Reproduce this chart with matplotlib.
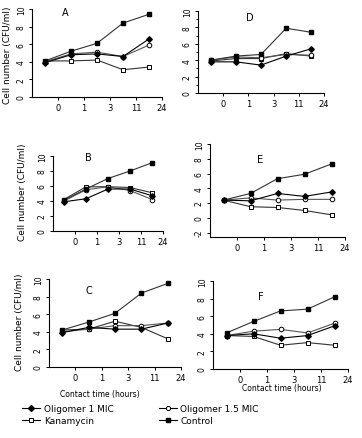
import matplotlib
matplotlib.use('Agg')
import matplotlib.pyplot as plt
from matplotlib.lines import Line2D

W, H = 362, 439

hours = ['0', '1', '3', '11', '24']
sample_pos = [0.5, 1.5, 2.5, 3.5, 4.5]

# panel -> (oligomer 1 MIC, oligomer 1.5 MIC, kanamycin, control)
olig1 = {
    'A': [3.9, 4.8, 4.9, 4.6, 6.6],
    'B': [3.9, 4.3, 5.6, 5.6, 4.7],
    'C': [3.9, 4.5, 4.3, 4.3, 5.0],
    'D': [3.8, 3.8, 3.4, 4.5, 5.4],
    'E': [2.4, 2.3, 3.3, 2.9, 3.5],
    'F': [3.8, 4.0, 3.5, 3.8, 4.9],
}
olig15 = {
    'A': [4.0, 4.9, 5.1, 4.6, 5.9],
    'B': [4.0, 5.5, 5.9, 5.4, 4.2],
    'C': [4.0, 4.3, 4.7, 4.7, 5.0],
    'D': [4.0, 4.4, 4.3, 4.7, 4.6],
    'E': [2.4, 2.7, 2.4, 2.5, 2.5],
    'F': [3.8, 4.3, 4.5, 4.1, 5.2],
}
kana = {
    'A': [4.1, 4.1, 4.2, 3.1, 3.4],
    'B': [4.2, 5.9, 5.9, 5.8, 5.1],
    'C': [4.2, 4.3, 5.2, 4.5, 3.2],
    'D': [3.9, 4.2, 4.2, 4.8, 4.5],
    'E': [2.4, 1.5, 1.4, 1.0, 0.4],
    'F': [3.8, 3.7, 2.7, 3.0, 2.7],
}
control = {
    'A': [4.1, 5.2, 6.1, 8.4, 9.4],
    'B': [4.1, 5.6, 7.0, 8.0, 9.1],
    'C': [4.2, 5.1, 6.1, 8.4, 9.5],
    'D': [4.0, 4.5, 4.7, 7.9, 7.4],
    'E': [2.4, 3.3, 5.3, 5.9, 7.3],
    'F': [4.1, 5.4, 6.6, 6.8, 8.2],
}

# axes boxes in pixels: left, top, right, bottom, ylim
boxes = {
    'A': (32, 10, 162, 98, (0, 10)),
    'D': (198, 12, 324, 94, (0, 10)),
    'B': (53, 157, 163, 232, (0, 10)),
    'E': (210, 145, 345, 238, (-2.6, 10)),
    'C': (49, 280, 181, 368, (0, 10)),
    'F': (213, 282, 348, 370, (0, 10)),
}
letter_pos = {'A': (62, 8), 'D': (246, 13), 'B': (85, 153),
              'E': (257, 155), 'C': (86, 286), 'F': (258, 292)}

fig = plt.figure(figsize=(W / 100, H / 100), dpi=100)
fig.patch.set_facecolor('white')

for name, (l, t, r, b, ylim) in boxes.items():
    ax = fig.add_axes([l / W, 1 - b / H, (r - l) / W, (b - t) / H])
    ax.set_xlim(0, 5)
    ax.set_ylim(*ylim)
    for sp in ['top', 'right']:
        ax.spines[sp].set_visible(False)
    for sp in ['left', 'bottom']:
        ax.spines[sp].set_linewidth(0.8)
    ax.set_xticks([1, 2, 3, 4, 5])
    ax.set_xticklabels(hours, fontsize=6)
    yt = [0, 2, 4, 6, 8, 10]
    if name == 'E':
        yt = [-2] + yt
    ax.set_yticks(yt)
    ax.set_yticklabels([str(v) for v in yt], fontsize=5.5)
    if name == 'D':
        ax.set_yticks([1, 3, 5, 7, 9], minor=True)
    ax.tick_params(length=2.5, width=0.7, pad=2)
    ax.tick_params(axis='y', labelrotation=90)
    for lab in ax.get_yticklabels():
        lab.set_va('center')
    ax.tick_params(which='minor', length=1.5, width=0.6)

    ax.plot(sample_pos, kana[name], color='#333333', lw=0.8, marker='s', ms=3.3,
            mfc='white', mec='black', mew=0.7)
    ax.plot(sample_pos, olig15[name], color='#555555', lw=0.8, marker='o', ms=3.3,
            mfc='white', mec='black', mew=0.7)
    ax.plot(sample_pos, olig1[name], color='black', lw=0.8, marker='D', ms=2.8,
            mfc='black', mec='black')
    ax.plot(sample_pos, control[name], color='#333333', lw=0.8, marker='s', ms=3.3,
            mfc='black', mec='black')

    lx, ly = letter_pos[name]
    fig.text(lx / W, 1 - ly / H, name, fontsize=7, ha='left', va='top')

for x, y in [(8, 55), (23, 192), (20, 322)]:
    fig.text(x / W, 1 - y / H, 'Cell number (CFU/ml)', rotation=90,
             fontsize=6.5, ha='center', va='center')

fig.text(100 / W, 1 - 395 / H, 'Contact time (hours)', fontsize=5.5,
         ha='center', va='center')
fig.text(282 / W, 1 - 389 / H, 'Contact time (hours)', fontsize=5.5,
         ha='center', va='center')

handles = [
    Line2D([], [], color='black', lw=0.8, marker='D', ms=3, mfc='black'),
    Line2D([], [], color='black', lw=0.8, marker='s', ms=3.5, mfc='white', mew=0.7),
    Line2D([], [], color='black', lw=0.8, marker='o', ms=3, mfc='white', mew=0.7),
    Line2D([], [], color='black', lw=0.8, marker='s', ms=3.5, mfc='black'),
]
labels = ['Oligomer 1 MIC', 'Kanamycin', 'Oligomer 1.5 MIC', 'Control']
fig.legend(handles, labels, loc='upper left', bbox_to_anchor=(22 / W, 1 - 405 / H),
           ncol=2, fontsize=6.5, frameon=False, handlelength=2.0,
           handletextpad=0.4, columnspacing=5.0, labelspacing=0.35,
           borderaxespad=0, borderpad=0)

fig.savefig('out.png', dpi=100, facecolor='white')
